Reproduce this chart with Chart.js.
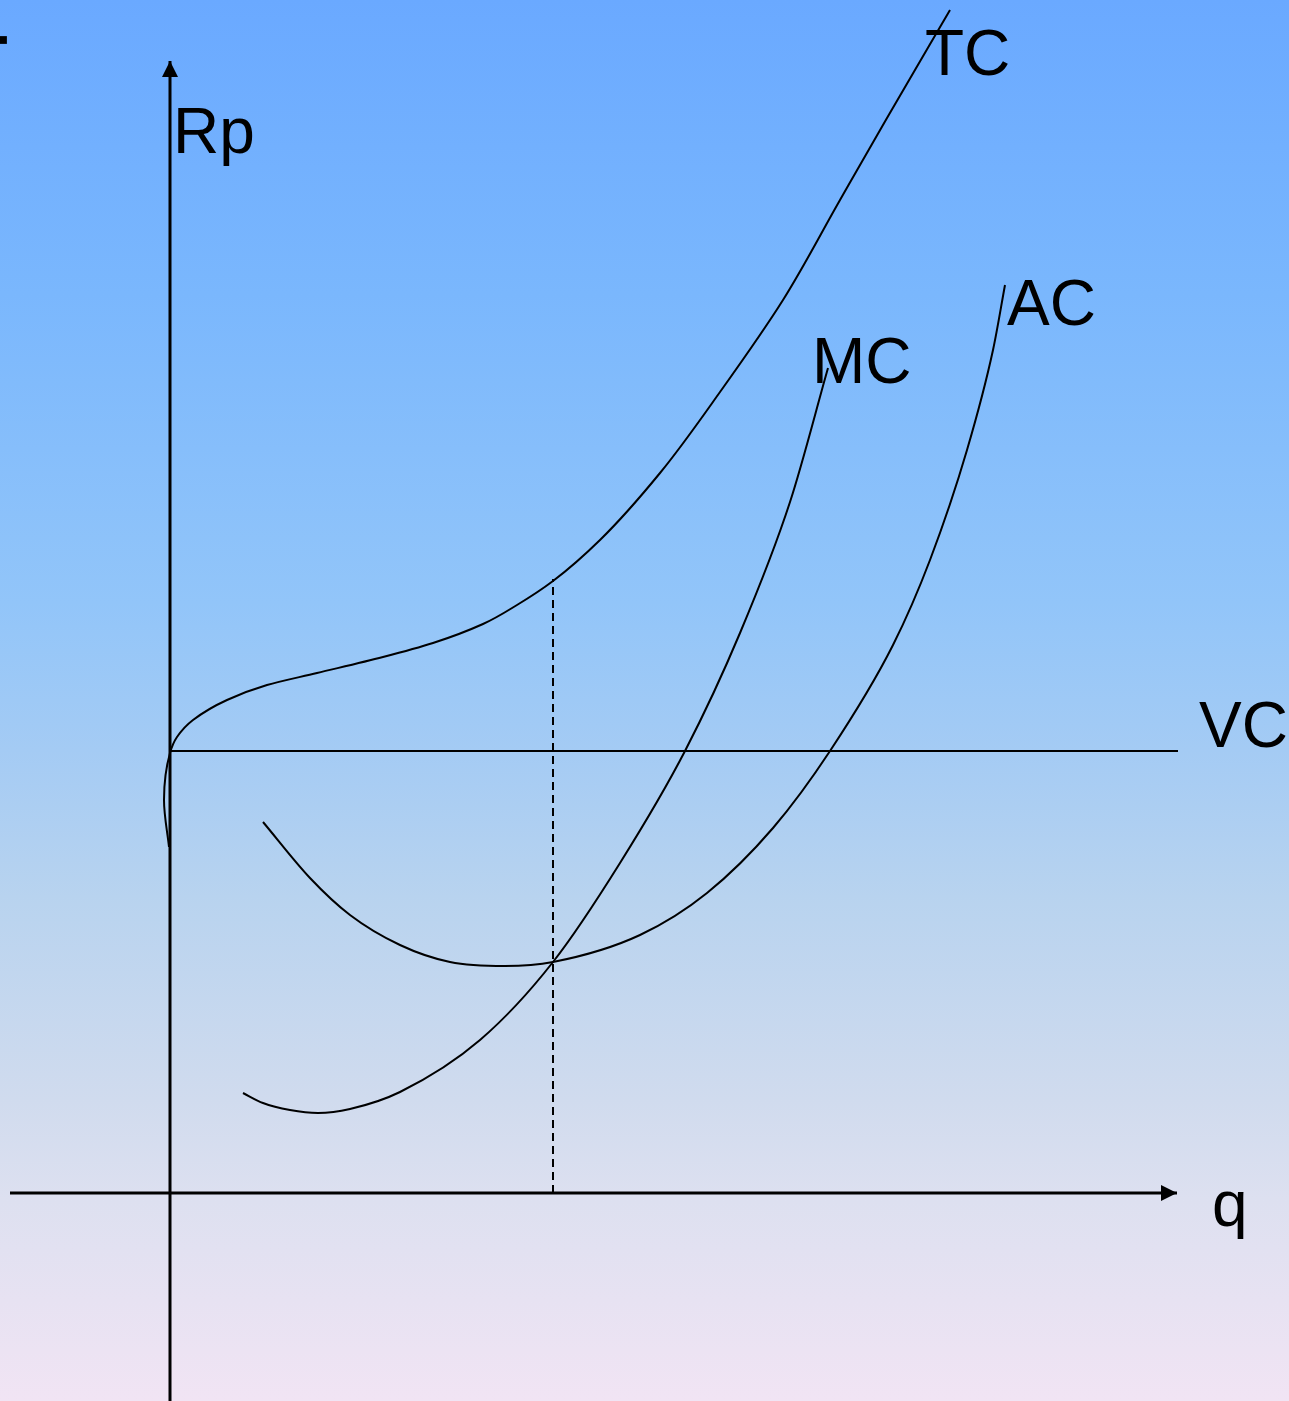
<!DOCTYPE html>
<html>
<head>
<meta charset="utf-8">
<script src="https://cdn.jsdelivr.net/npm/chart.js@4/dist/chart.umd.min.js"></script>
<style>
  html, body { margin: 0; padding: 0; }
  body {
    width: 1289px; height: 1401px; overflow: hidden;
    background: linear-gradient(to bottom,
      #6aa9ff 0%, #7ab7fd 21%, #92c5f9 43%, #a4cbf4 53.5%,
      #b8d3ef 64%, #d0dbee 78.5%, #dde0f0 85.6%, #f1e4f4 100%);
  }
  canvas { display: block; }
</style>
</head>
<body>
<canvas id="c" width="1289" height="1401"></canvas>
<script>
// ---- data (q = quantity, Rp = cost / price) ----
const tcQ  = [-0.01, -0.06, 0.00, 0.07, 0.23, 0.57, 0.97, 1.47, 2.13, 2.63, 3.13, 3.47, 3.83, 4.30, 4.90, 5.50, 6.13, 6.70, 7.17, 7.80];
const tcRp = [ 3.46,  3.93, 4.40, 4.56, 4.73, 4.93, 5.08, 5.20, 5.36, 5.50, 5.69, 5.88, 6.12, 6.53, 7.20, 8.01, 8.93, 9.93, 10.75, 11.83];

const mcQ  = [0.73, 0.93, 1.20, 1.48, 1.80, 2.30, 3.10, 3.83, 4.50, 5.15, 5.70, 6.20, 6.58];
const mcRp = [1.00, 0.90, 0.83, 0.80, 0.84, 1.01, 1.53, 2.31, 3.30, 4.42, 5.60, 6.91, 8.25];

const acQ  = [0.93, 1.40, 1.80, 2.30, 2.80, 3.35, 3.83, 4.70, 5.37, 6.03, 6.60, 7.23, 7.60, 7.97, 8.23, 8.35];
const acRp = [3.71, 3.15, 2.78, 2.48, 2.31, 2.27, 2.31, 2.58, 3.00, 3.65, 4.42, 5.48, 6.33, 7.43, 8.43, 9.08];

const vcQ  = [0.00, 10.08];
const vcRp = [4.42, 4.42];

const optQ  = [3.83, 3.83];       // output at min AC (MC = AC)
const optRp = [0.00, 6.14];

const qAxisQ  = [-1.60, 10.07];
const qAxisRp = [0, 0];
const rAxisQ  = [0, 0];
const rAxisRp = [-2.08, 11.32];

const markQ = [-1.67], markRp = [11.53];

const labelTexts = ['Rp', 'TC', 'MC', 'AC', 'VC', 'q'];
const labelQ     = [0.03, 7.55, 6.42, 8.37, 10.29, 10.42];
const labelRp    = [10.40, 11.18, 8.10, 8.68, 4.46, -0.33];

// ---- helpers ----
const pts = (xs, ys) => xs.map((x, i) => ({ x, y: ys[i] }));

const arrowPlugin = {
  id: 'arrowHeads',
  afterDatasetsDraw(chart) {
    const ctx = chart.ctx;
    chart.data.datasets.forEach((ds, i) => {
      if (!ds.arrow) return;
      const els = chart.getDatasetMeta(i).data;
      const a = els[els.length - 2], b = els[els.length - 1];
      const ang = Math.atan2(b.y - a.y, b.x - a.x);
      const len = 16, half = 8;
      ctx.save();
      ctx.translate(b.x, b.y);
      ctx.rotate(ang);
      ctx.beginPath();
      ctx.moveTo(0, 0);
      ctx.lineTo(-len, -half);
      ctx.lineTo(-len, half);
      ctx.closePath();
      ctx.fillStyle = '#000';
      ctx.fill();
      ctx.restore();
    });
  }
};

const labelPlugin = {
  id: 'curveLabels',
  afterDatasetsDraw(chart) {
    const ctx = chart.ctx, xs = chart.scales.x, ys = chart.scales.y;
    ctx.save();
    ctx.font = '64px "Liberation Sans", Arial, sans-serif';
    ctx.fillStyle = '#000';
    ctx.textAlign = 'left';
    ctx.textBaseline = 'alphabetic';
    labelTexts.forEach((t, i) => {
      ctx.fillText(t, xs.getPixelForValue(labelQ[i]), ys.getPixelForValue(labelRp[i]));
    });
    ctx.restore();
  }
};

const curve = (data, extra) => Object.assign({
  data, showLine: true, borderColor: '#000', borderWidth: 2,
  pointRadius: 0, pointHoverRadius: 0, tension: 0, fill: false
}, extra || {});

new Chart(document.getElementById('c'), {
  type: 'scatter',
  data: {
    datasets: [
      curve(pts(rAxisQ, rAxisRp), { borderWidth: 3, arrow: true }),
      curve(pts(qAxisQ, qAxisRp), { borderWidth: 3, arrow: true }),
      curve(pts(vcQ, vcRp)),
      curve(pts(optQ, optRp), { borderDash: [8, 5] }),
      curve(pts(tcQ, tcRp), { indexAxis: 'y', cubicInterpolationMode: 'monotone' }),
      curve(pts(mcQ, mcRp), { cubicInterpolationMode: 'monotone' }),
      curve(pts(acQ, acRp), { cubicInterpolationMode: 'monotone' }),
      { data: pts(markQ, markRp), showLine: false, pointStyle: 'rect',
        pointRadius: 5.5, pointHoverRadius: 5.5, backgroundColor: '#000', borderColor: '#000', borderWidth: 0 }
    ]
  },
  options: {
    responsive: false,
    animation: false,
    devicePixelRatio: 1,
    layout: { padding: 0, autoPadding: false },
    plugins: { legend: { display: false }, tooltip: { enabled: false } },
    events: [],
    scales: {
      x: { type: 'linear', min: -1.70, max: 11.19, display: false },
      y: { type: 'linear', min: -2.08, max: 11.93, display: false }
    }
  },
  plugins: [arrowPlugin, labelPlugin]
});
</script>
</body>
</html>
